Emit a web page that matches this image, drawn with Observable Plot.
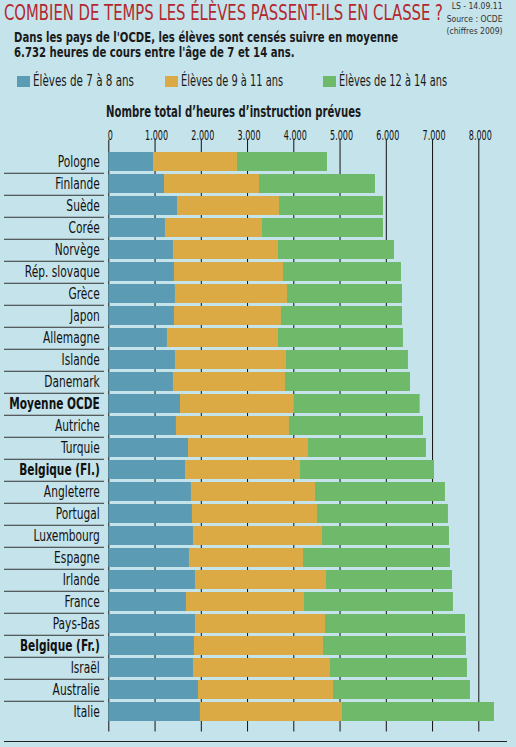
<!DOCTYPE html>
<html><head><meta charset="utf-8">
<script src="https://cdn.jsdelivr.net/npm/d3@7"></script>
<script src="https://cdn.jsdelivr.net/npm/@observablehq/plot@0.6"></script>
<style>
html,body{margin:0;padding:0;background:#c5e3eb;}
#page{position:relative;width:516px;height:747px;overflow:hidden;background:#c5e3eb;font-family:"Liberation Sans Narrow","DejaVu Sans Condensed","DejaVu Sans",sans-serif;}
.abs{position:absolute;white-space:nowrap;}
#title{left:4px;top:0px;font-size:22px;line-height:26px;color:#b3282e;transform-origin:0 0;}
#source{right:13px;top:0px;font-size:9.5px;line-height:12.5px;color:#333;text-align:right;transform-origin:100% 0;}
#sub{left:14px;top:30px;font-size:14.5px;line-height:15px;font-weight:bold;color:#1a1a1a;transform-origin:0 0;}
.leg{top:73px;font-size:15px;line-height:16px;color:#1a1a1a;display:flex;align-items:center;}
.sw{width:13px;height:11px;margin-right:3px;display:inline-block;flex:none;}
.lt{display:inline-block;transform-origin:0 50%;}
#axlabel{left:106px;top:104px;font-size:15px;line-height:17px;font-weight:bold;color:#1a1a1a;transform-origin:0 0;}
#chart{position:absolute;left:0;top:100px;}
#bottomline{position:absolute;left:4px;top:741px;width:503px;border-top:1px solid #222;}
</style></head>
<body>
<div id="page">
  <div id="title" class="abs">COMBIEN DE TEMPS LES ÉLÈVES PASSENT-ILS EN CLASSE ?</div>
  <div id="source" class="abs">LS - 14.09.11<br>Source : OCDE<br>(chiffres 2009)</div>
  <div id="sub" class="abs">Dans les pays de l'OCDE, les élèves sont censés suivre en moyenne<br>6.732 heures de cours entre l'âge de 7 et 14 ans.</div>
  <div id="legend"></div>
  <div id="axlabel" class="abs">Nombre total d’heures d’instruction prévues</div>
  <div id="chart"></div>
  <div id="bottomline"></div>
</div>
<script>
// ---- Data ----
const countries = ["Pologne","Finlande","Suède","Corée","Norvège","Rép. slovaque","Grèce","Japon","Allemagne","Islande","Danemark","Moyenne OCDE","Autriche","Turquie","Belgique (Fl.)","Angleterre","Portugal","Luxembourg","Espagne","Irlande","France","Pays-Bas","Belgique (Fr.)","Israël","Australie","Italie"];
const ages7to8   = [966,1204,1485,1225,1398,1420,1441,1420,1268,1441,1398,1550,1463,1723,1658,1787,1809,1831,1744,1874,1679,1874,1852,1831,1939,1982];
const ages9to11  = [1816,2054,2205,2098,2270,2357,2422,2313,2400,2400,2422,2464,2443,2594,2486,2681,2703,2789,2465,2832,2552,2811,2789,2962,2919,3070];
const ages12to14 = [1946,2508,2249,2616,2509,2551,2487,2617,2703,2638,2703,2718,2898,2551,2897,2811,2832,2746,3178,2725,3221,3027,3092,2962,2962,3287];
const seriesNames = ["Élèves de 7 à 8 ans","Élèves de 9 à 11 ans","Élèves de 12 à 14 ans"];
const boldRows = ["Moyenne OCDE","Belgique (Fl.)","Belgique (Fr.)"];
const xTicks = [0,1000,2000,3000,4000,5000,6000,7000,8000];

// ---- Styles ----
const colors = ["#5b9bb3","#dbaa45","#6fba6a"];
const legendX = [17,165,323];
const legendTextW = [101,102,108];
const font = '"Liberation Sans Narrow","DejaVu Sans Condensed","DejaVu Sans",sans-serif';

// legend
const legend = document.getElementById("legend");
seriesNames.forEach((name,i)=>{
  const item = document.createElement("div");
  item.className = "abs leg";
  item.style.left = legendX[i] + "px";
  item.innerHTML = `<span class="sw" style="background:${colors[i]}"></span><span class="lt">${name}</span>`;
  legend.appendChild(item);
  const lt = item.querySelector(".lt");
  const w = lt.getBoundingClientRect().width;
  if (w > 0) lt.style.transform = `scaleX(${legendTextW[i] / w})`;
});

const series = [ages7to8, ages9to11, ages12to14];
const rows = [];
countries.forEach((c,i)=>{
  seriesNames.forEach((s,j)=>rows.push({country:c, group:s, value:series[j][i]}));
});

const loc = d3.formatLocale({decimal:",", thousands:".", grouping:[3], currency:["",""]});
const fmt = loc.format(",");

const plot = Plot.plot({
  width:516, height:647,
  marginTop:43.7, marginBottom:17.5, marginLeft:108.3, marginRight:37.7,
  style:{background:"transparent", fontFamily:font, fontSize:"12px", color:"#111", overflow:"visible"},
  x:{domain:[0,8000], axis:null, label:null},
  y:{domain:countries, axis:null, label:null, paddingInner:0.14, paddingOuter:0.07},
  color:{domain:seriesNames, range:colors},
  marks:[
    Plot.ruleX(xTicks, {stroke:"#111", strokeWidth:1, insetTop:-4, insetBottom:-2}),
    Plot.ruleY(countries.slice(0,-1), {y:d=>d, dy:11.27, stroke:"#333", strokeWidth:1, insetLeft:-104.3, insetRight:374.3}),
    Plot.barX(rows, Plot.stackX({y:"country", x:"value", fill:"group"})),
    Plot.axisX(xTicks, {anchor:"top", tickSize:0, tickPadding:4, tickFormat:fmt, fontSize:14, dx:1.5, label:null}),
    Plot.text(countries.filter(c=>!boldRows.includes(c)), {y:d=>d, text:d=>d, frameAnchor:"left", dx:-9, textAnchor:"end", fontSize:15, fill:"#111"}),
    Plot.text(boldRows, {y:d=>d, text:d=>d, frameAnchor:"left", dx:-9, textAnchor:"end", fontSize:15, fontWeight:"bold", fill:"#111"})
  ]
});
document.getElementById("chart").appendChild(plot);

// horizontal condensing of SVG texts to mimic the condensed newspaper font
const allTexts = Array.from(plot.querySelectorAll("text"));
function squeezeSet(labels, refText, refWidth){
  const texts = allTexts.filter(t => labels.includes(t.textContent));
  const ref = texts.find(t => t.textContent === refText);
  if (!ref) return;
  const w = ref.getBBox().width;
  if (!(w > 0)) return;
  const s = refWidth / w;
  texts.forEach(t => {
    const tr = t.getAttribute("transform") || "";
    const xa = t.getAttribute("x");
    let pre = "";
    if (xa !== null && isFinite(+xa) && +xa !== 0) { pre = ` translate(${+xa},0)`; t.removeAttribute("x"); }
    t.setAttribute("transform", `${tr}${pre} scale(${s},1)`);
  });
}
squeezeSet(countries.filter(c=>!boldRows.includes(c)), "Rép. slovaque", 75);
squeezeSet(boldRows, "Moyenne OCDE", 90.7);
squeezeSet(xTicks.map(fmt), "1.000", 23);

function fitWidth(id, target){
  const el = document.getElementById(id);
  const w = el.getBoundingClientRect().width;
  if (w > 0) el.style.transform = `scaleX(${target / w})`;
}
fitWidth("title", 439);
fitWidth("axlabel", 255);
fitWidth("sub", 384);
fitWidth("source", 56);
</script>
</body></html>
